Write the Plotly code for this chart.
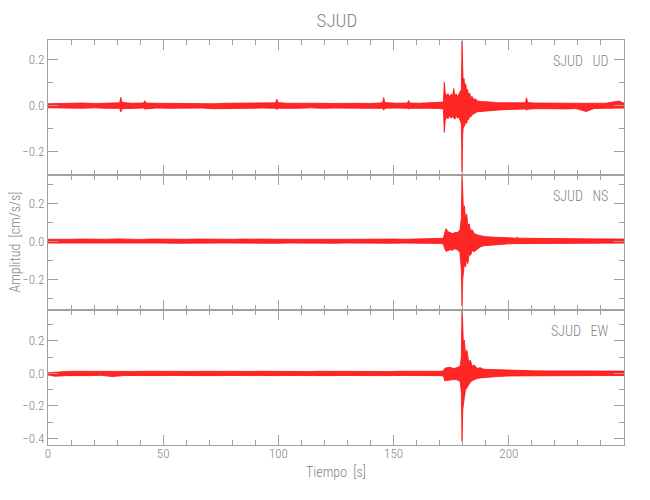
import plotly.graph_objects as go
from plotly.subplots import make_subplots

# ---------------- data (envelope readings: time [s], max and min amplitude [cm/s/s]) -------------
t_ud = [0, 5, 10, 15, 20, 25, 31.1, 31.6, 32.1, 36, 41.5, 42, 42.5, 47, 52, 57, 62, 67, 72, 77,
        82, 87, 93, 98.8, 99.3, 99.8, 104, 109, 114, 119, 124, 129, 134, 140, 145.2, 145.7, 146.2,
        151, 156, 156.5, 157, 161, 166, 170, 171.6, 172.0, 172.4, 173.0, 173.6, 174.3, 175.0,
        175.6, 176.1, 176.6, 177.2, 177.8, 178.4, 178.9, 179.4, 179.7, 180.0, 180.2, 180.5,
        180.9, 181.3, 181.7, 182.1, 182.5, 183.0, 183.5, 184.1, 184.8, 185.5, 186.3, 187.7,
        189.2, 192.1, 195.0, 198, 201, 204, 207.2, 207.7, 208.2, 211, 216, 220, 225, 229, 233.6,
        237, 242, 247.8, 250]
ud_max = [0.008, 0.010, 0.009, 0.011, 0.009, 0.010, 0.012, 0.036, 0.014, 0.010, 0.011, 0.021, 0.011,
          0.010, 0.009, 0.011, 0.010, 0.009, 0.008, 0.010, 0.011, 0.009, 0.010, 0.012, 0.028, 0.013,
          0.010, 0.011, 0.009, 0.010, 0.009, 0.011, 0.010, 0.009, 0.012, 0.035, 0.013, 0.010, 0.011,
          0.022, 0.011, 0.010, 0.011, 0.012, 0.015, 0.102, 0.055, 0.045, 0.052, 0.040, 0.050,
          0.042, 0.075, 0.045, 0.050, 0.040, 0.052, 0.060, 0.070, 0.280, 0.139, 0.095, 0.120,
          0.085, 0.095, 0.062, 0.070, 0.048, 0.055, 0.035, 0.040, 0.025, 0.030, 0.020, 0.018,
          0.016, 0.015, 0.012, 0.012, 0.011, 0.011, 0.012, 0.034, 0.013, 0.011, 0.010, 0.011,
          0.010, 0.010, 0.010, 0.011, 0.010, 0.020, 0.010]
ud_min = [-0.010, -0.012, -0.011, -0.012, -0.010, -0.012, -0.012, -0.028, -0.014, -0.011, -0.011,
          -0.015, -0.012, -0.011, -0.012, -0.010, -0.012, -0.011, -0.014, -0.012, -0.011, -0.012,
          -0.011, -0.012, -0.018, -0.012, -0.011, -0.012, -0.010, -0.012, -0.011, -0.013, -0.011,
          -0.012, -0.012, -0.020, -0.012, -0.011, -0.012, -0.015, -0.012, -0.011, -0.012, -0.013,
          -0.015, -0.117, -0.065, -0.050, -0.058, -0.045, -0.055, -0.048, -0.052, -0.060, -0.045,
          -0.055, -0.050, -0.058, -0.080, -0.290, -0.125, -0.100, -0.092, -0.085, -0.070, -0.078,
          -0.058, -0.062, -0.048, -0.050, -0.040, -0.035, -0.032, -0.027, -0.028, -0.024, -0.022,
          -0.020, -0.018, -0.016, -0.015, -0.015, -0.020, -0.016, -0.014, -0.013, -0.014, -0.015,
          -0.013, -0.026, -0.013, -0.012, -0.012, -0.011]

t_ns = [0, 5, 10, 15, 20, 25, 30, 35, 40, 45, 50, 55, 60, 65, 70, 75, 80, 85, 90, 95, 100, 105,
        110, 115, 120, 125, 130, 135, 140, 145, 150, 155, 160, 166, 170, 171.6, 172.2, 172.8,
        173.6, 174.6, 175.6, 176.6, 177.7, 178.8, 179.4, 179.7, 180.0, 180.3, 180.7, 181.2,
        181.7, 182.2, 182.8, 183.4, 184.1, 185.0, 186.3, 187.7, 189.2, 192.0, 195.0, 200, 203.2,
        203.7, 204.2, 209, 214, 220, 226, 232, 238, 244, 250]
ns_max = [0.010, 0.009, 0.010, 0.011, 0.009, 0.010, 0.012, 0.010, 0.009, 0.011, 0.010, 0.009,
          0.010, 0.011, 0.010, 0.009, 0.010, 0.011, 0.010, 0.009, 0.011, 0.010, 0.010, 0.009,
          0.011, 0.010, 0.010, 0.011, 0.010, 0.010, 0.011, 0.010, 0.011, 0.012, 0.012, 0.015,
          0.045, 0.066, 0.050, 0.047, 0.040, 0.045, 0.045, 0.060, 0.120, 0.370, 0.200, 0.160,
          0.186, 0.120, 0.143, 0.085, 0.091, 0.055, 0.060, 0.040, 0.033, 0.028, 0.025, 0.022,
          0.021, 0.018, 0.016, 0.022, 0.016, 0.015, 0.014, 0.013, 0.012, 0.013, 0.012, 0.012, 0.011]
ns_min = [-0.010, -0.011, -0.010, -0.009, -0.010, -0.011, -0.010, -0.010, -0.011, -0.010, -0.010,
          -0.011, -0.010, -0.010, -0.011, -0.010, -0.010, -0.011, -0.010, -0.010, -0.011, -0.010,
          -0.011, -0.010, -0.010, -0.011, -0.010, -0.010, -0.011, -0.010, -0.011, -0.010, -0.011,
          -0.011, -0.012, -0.015, -0.040, -0.054, -0.050, -0.045, -0.048, -0.040, -0.045, -0.060,
          -0.150, -0.341, -0.200, -0.162, -0.120, -0.136, -0.095, -0.118, -0.070, -0.075, -0.050,
          -0.055, -0.043, -0.030, -0.024, -0.020, -0.017, -0.014, -0.013, -0.013, -0.013, -0.012,
          -0.012, -0.011, -0.011, -0.011, -0.011, -0.010, -0.010]

t_ew = [0, 3, 8, 13, 18, 23, 28, 33, 38, 43, 48, 53, 58, 63, 68, 73, 78, 83, 88, 93, 98, 103,
        108, 113, 118, 123, 128, 133, 138, 143, 148, 153, 158, 163, 170, 171.6, 172.2, 173.2,
        174.6, 176.1, 177.5, 178.9, 179.4, 179.7, 180.0, 180.3, 180.7, 181.2, 181.8, 182.6,
        183.3, 184.1, 185.0, 186.3, 187.7, 189.2, 192.0, 195.0, 200, 205, 210, 216, 222, 228,
        234, 240, 245, 250]
ew_max = [0.004, 0.008, 0.012, 0.013, 0.012, 0.013, 0.010, 0.013, 0.012, 0.013, 0.012, 0.011,
          0.013, 0.012, 0.013, 0.012, 0.011, 0.013, 0.012, 0.013, 0.012, 0.013, 0.012, 0.011,
          0.013, 0.012, 0.013, 0.012, 0.013, 0.012, 0.011, 0.013, 0.012, 0.013, 0.013, 0.015,
          0.031, 0.035, 0.037, 0.030, 0.035, 0.045, 0.100, 0.420, 0.246, 0.180, 0.205, 0.120,
          0.143, 0.070, 0.082, 0.045, 0.051, 0.031, 0.035, 0.025, 0.024, 0.022, 0.018, 0.017,
          0.016, 0.015, 0.016, 0.014, 0.015, 0.014, 0.015, 0.014]
ew_min = [-0.010, -0.018, -0.014, -0.013, -0.014, -0.012, -0.020, -0.013, -0.014, -0.013, -0.014,
          -0.013, -0.012, -0.014, -0.013, -0.014, -0.013, -0.012, -0.014, -0.013, -0.014, -0.013,
          -0.012, -0.014, -0.013, -0.014, -0.013, -0.012, -0.014, -0.013, -0.014, -0.013, -0.012,
          -0.014, -0.014, -0.016, -0.046, -0.040, -0.041, -0.038, -0.040, -0.050, -0.120, -0.417,
          -0.226, -0.185, -0.150, -0.103, -0.085, -0.072, -0.055, -0.045, -0.038, -0.031, -0.028,
          -0.025, -0.022, -0.020, -0.016, -0.015, -0.014, -0.014, -0.013, -0.014, -0.013, -0.014,
          -0.013, -0.013]

components = ["UD", "NS", "EW"]
station = "SJUD"
y_ranges = [[-0.303, 0.286], [-0.362, 0.348], [-0.441, 0.39]]
x_ticks = [0, 50, 100, 150, 200]

series = [(t_ud, ud_max, ud_min), (t_ns, ns_max, ns_min), (t_ew, ew_max, ew_min)]
for t, a, b in series:
    assert len(t) == len(a) == len(b), (len(t), len(a), len(b))

# ---------------- figure -------------
FONT = "Roboto Condensed, Liberation Sans Narrow, DejaVu Sans Condensed, Roboto, sans-serif"
AX = "#a0a0a0"
TXT = "#858585"
W = 300

fig = make_subplots(rows=3, cols=1, shared_xaxes=True, vertical_spacing=0)

for i, (t, a, b) in enumerate(series):
    fig.add_trace(go.Scatter(
        x=list(t) + list(t)[::-1], y=list(a) + list(b)[::-1],
        mode="lines", fill="toself", fillcolor="rgba(255,0,0,0.85)",
        line=dict(color="#ff1010", width=0.8), hoverinfo="skip", showlegend=False),
        row=i + 1, col=1)
    fig.update_yaxes(range=y_ranges[i], tick0=0, dtick=0.2, tickformat=".1f",
                     ticks="inside", ticklen=10, tickcolor=AX, showline=True, linecolor=AX,
                     linewidth=1, mirror="allticks", zeroline=False, showgrid=False,
                     minor=dict(dtick=0.1, tick0=0, ticks="inside", ticklen=5, tickcolor=AX),
                     tickfont=dict(family=FONT, size=13, color=TXT, weight=W),
                     row=i + 1, col=1)
    fig.update_xaxes(range=[0, 250], tickvals=x_ticks, ticks="inside", ticklen=10,
                     tickcolor=AX, showline=True, linecolor=AX, linewidth=1,
                     mirror="allticks", zeroline=False, showgrid=False,
                     minor=dict(dtick=10, tick0=0, ticks="inside", ticklen=5, tickcolor=AX),
                     tickfont=dict(family=FONT, size=13, color=TXT, weight=W),
                     ticklabelstandoff=-4,
                     showticklabels=(i == 2), row=i + 1, col=1)
    xr = "x domain" if i == 0 else f"x{i + 1} domain"
    yr = "y domain" if i == 0 else f"y{i + 1} domain"
    fig.add_annotation(text=station + "\u00a0\u00a0\u00a0" + components[i], xref=xr, yref=yr,
                       x=0.975, y=0.845, xanchor="right", yanchor="middle", showarrow=False,
                       font=dict(family=FONT, size=14, color=TXT, weight=W))

fig.add_annotation(text="Amplitud\u00a0\u00a0[cm/s/s]", xref="paper", yref="paper",
                   x=-0.059, y=0.5, textangle=-90, xanchor="center", yanchor="middle",
                   showarrow=False, font=dict(family=FONT, size=14, color=TXT, weight=W))
fig.add_annotation(text="Tiempo\u00a0\u00a0[s]", xref="paper", yref="paper",
                   x=0.5, y=-0.067, xanchor="center", yanchor="middle",
                   showarrow=False, font=dict(family=FONT, size=14, color=TXT, weight=W))

fig.update_layout(
    width=650, height=500,
    margin=dict(l=40, r=34, t=32, b=63),
    paper_bgcolor="white", plot_bgcolor="white",
    title=dict(text=station, x=0.506, xanchor="center", y=0.976, yanchor="middle",
               font=dict(family=FONT, size=19, color=TXT, weight=W)),
    showlegend=False,
)

fig.write_html("out.html")
